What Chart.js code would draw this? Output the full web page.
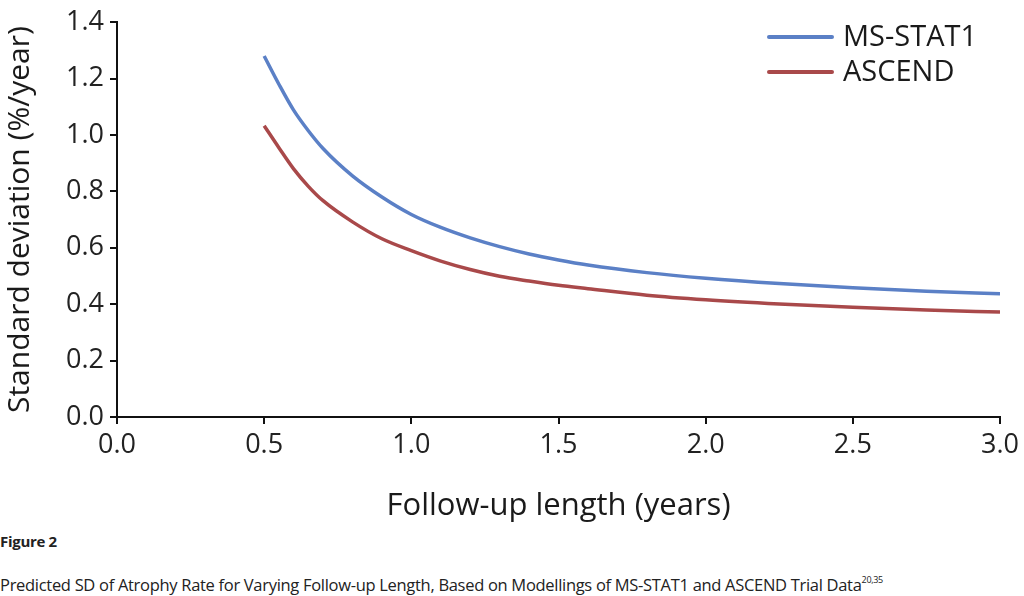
<!DOCTYPE html>
<html>
<head>
<meta charset="utf-8">
<script src="https://cdn.jsdelivr.net/npm/chart.js@4.4.1/dist/chart.umd.min.js"></script>
<style>
  body { margin: 0; background: #fff; width: 1024px; height: 596px; overflow: hidden; position: relative; }
  #wrap { position: absolute; left: 0; top: 0; width: 1024px; height: 525px; }
  .cap { position: absolute; left: 0; font-family: "Open Sans", sans-serif; color: #222; white-space: nowrap; }
  #fig { top: 531px; font-size: 15px; font-weight: bold; letter-spacing: -0.3px; }
  #desc { top: 573px; font-size: 16.5px; letter-spacing: -0.3px; }
  #desc sup { font-size: 9px; vertical-align: 8px; line-height: 0; }
</style>
</head>
<body>
<div id="wrap"><canvas id="myChart"></canvas></div>
<div class="cap" id="fig">Figure 2</div>
<div class="cap" id="desc">Predicted SD of Atrophy Rate for Varying Follow-up Length, Based on Modellings of MS-STAT1 and ASCEND Trial Data<sup>20,35</sup></div>

<script>
/////////////////// DATA ///////////////////

// follow-up length in years
const followUp = [0.5, 0.55, 0.6, 0.65, 0.7, 0.8, 0.9, 1.0, 1.1, 1.2, 1.3, 1.4, 1.5, 1.6, 1.8, 2.0, 2.25, 2.5, 2.75, 3.0];

// SD of atrophy rate (%/year)
const msStat1 = [1.28, 1.18, 1.088, 1.015, 0.952, 0.855, 0.78, 0.718, 0.672, 0.635, 0.604, 0.578, 0.557, 0.539, 0.512, 0.492, 0.473, 0.458, 0.446, 0.437];
const ascend  = [1.033, 0.955, 0.88, 0.818, 0.767, 0.692, 0.632, 0.59, 0.553, 0.523, 0.499, 0.482, 0.467, 0.455, 0.432, 0.416, 0.401, 0.389, 0.379, 0.372];

// axis ticks
const xTicks = [0.0, 0.5, 1.0, 1.5, 2.0, 2.5, 3.0];
const yTicks = [0.0, 0.2, 0.4, 0.6, 0.8, 1.0, 1.2, 1.4];

const seriesNames = ["MS-STAT1", "ASCEND"];
const seriesColors = ["#5b80c6", "#a9494a"];

/////////////////// HELPERS ///////////////////

function toPoints(values) {
  // pair every value with its follow-up length
  return values.map((v, i) => ({ x: followUp[i], y: v }));
}

// legend drawn in the top right corner, like the original
const cornerLegend = {
  id: "cornerLegend",
  afterDraw(chart) {
    const ctx = chart.ctx;
    ctx.save();
    chart.data.datasets.forEach((ds, i) => {
      const y = 37 + i * 35;
      ctx.strokeStyle = ds.borderColor;
      ctx.lineWidth = 4;
      ctx.lineCap = "round";
      ctx.beginPath();
      ctx.moveTo(769, y);
      ctx.lineTo(832, y);
      ctx.stroke();
      ctx.fillStyle = "#1a1a1a";
      ctx.font = "29px 'Open Sans'";
      ctx.textBaseline = "middle";
      ctx.fillText(ds.label, 843, y + 1);
    });
    ctx.restore();
  },
};

/////////////////// CHART ///////////////////

const axisColor = "#111";
const tickFont = { family: "Open Sans", size: 27 };

const data = {
  datasets: [
    {
      label: seriesNames[0],
      data: toPoints(msStat1),
      borderColor: seriesColors[0],
      borderWidth: 3.5,
      pointRadius: 0,
      cubicInterpolationMode: "monotone",
    },
    {
      label: seriesNames[1],
      data: toPoints(ascend),
      borderColor: seriesColors[1],
      borderWidth: 3.5,
      pointRadius: 0,
      cubicInterpolationMode: "monotone",
    },
  ],
};

const config = {
  type: "line",
  data: data,
  options: {
    responsive: true,
    maintainAspectRatio: false,
    animation: false,
    layout: { padding: { top: 16, right: 21 } },
    plugins: { legend: { display: false }, tooltip: { enabled: false } },
    scales: {
      x: {
        type: "linear",
        min: 0,
        max: 3,
        afterBuildTicks: (s) => { s.ticks = xTicks.map((v) => ({ value: v })); },
        afterFit: (s) => { s.height = 108; },
        ticks: { color: "#222", font: tickFont, padding: 5, maxRotation: 0, callback: (v) => v.toFixed(1) },
        grid: { drawOnChartArea: false, drawTicks: true, tickLength: 7, color: axisColor, lineWidth: 2 },
        border: { display: true, color: axisColor, width: 2 },
        title: {
          display: true,
          text: "Follow-up length (years)",
          color: "#1a1a1a",
          font: { family: "Open Sans", size: 31 },
          padding: { top: 12, bottom: 0 },
        },
      },
      y: {
        type: "linear",
        min: 0,
        max: 1.4,
        afterBuildTicks: (s) => { s.ticks = yTicks.map((v) => ({ value: v })); },
        afterFit: (s) => { s.width = 117; },
        ticks: { color: "#222", font: tickFont, padding: 6, callback: (v) => v.toFixed(1) },
        grid: { drawOnChartArea: false, drawTicks: true, tickLength: 7, color: axisColor, lineWidth: 2 },
        border: { display: true, color: axisColor, width: 2 },
        title: {
          display: true,
          text: "Standard deviation (%/year)",
          color: "#1a1a1a",
          font: { family: "Open Sans", size: 30 },
          padding: { top: 2, bottom: 0 },
        },
      },
    },
  },
  plugins: [cornerLegend],
};

const myChart = new Chart(document.getElementById("myChart"), config);
</script>
</body>
</html>
